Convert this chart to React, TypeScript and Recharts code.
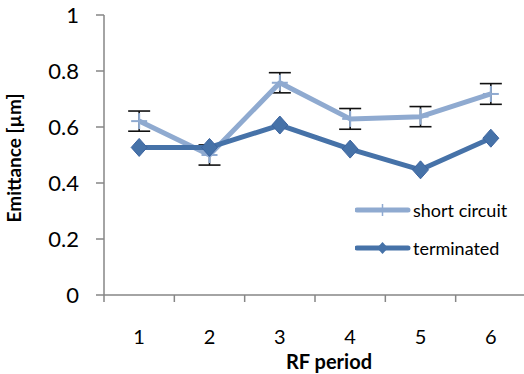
import React from 'react';
import { LineChart, Line, XAxis, YAxis, ErrorBar, Legend, Label } from 'recharts';

const periods = [1, 2, 3, 4, 5, 6];
const periodEdges = [0.5, 1.5, 2.5, 3.5, 4.5, 5.5, 6.5];
const shortCircuit = [0.621, 0.5, 0.758, 0.629, 0.637, 0.718];
const shortCircuitErr = [0.036, 0.036, 0.036, 0.037, 0.036, 0.037];
const terminated = [0.527, 0.527, 0.607, 0.521, 0.447, 0.56];
const yTicks = [0, 0.2, 0.4, 0.6, 0.8, 1];

const LIGHT = '#8FAAD0';
const DARK = '#4672A8';
const AXIS = '#868686';
const FONT = 'Lato, "Open Sans", sans-serif';
const TICK_SIZE = 7;
const TICK_MARGIN = 28;

const data = periods.map((p, i) => ({
  period: p,
  sc: shortCircuit[i],
  scErr: shortCircuitErr[i],
  term: terminated[i],
}));

const xTicks = [...periodEdges, ...periods].sort((a, b) => a - b);

const PlusDot = (props: any) => {
  const { cx, cy } = props;
  if (cx == null || cy == null) return null;
  return (
    <g>
      <line x1={cx - 8} y1={cy} x2={cx + 8} y2={cy} stroke={LIGHT} strokeWidth={2} />
      <line x1={cx} y1={cy - 8} x2={cx} y2={cy + 8} stroke={LIGHT} strokeWidth={2} />
    </g>
  );
};

const DiamondDot = (props: any) => {
  const { cx, cy } = props;
  if (cx == null || cy == null) return null;
  return (
    <polygon
      points={`${cx},${cy - 9} ${cx + 8},${cy} ${cx},${cy + 9} ${cx - 8},${cy}`}
      fill={DARK}
      stroke="#3C64A0"
      strokeWidth={1}
    />
  );
};

const XTick = (props: any) => {
  const { x, y, payload } = props;
  const v = payload.value;
  const axisY = y - TICK_SIZE - TICK_MARGIN;
  if (Number.isInteger(v)) {
    return (
      <text x={x} y={y} dy="0.71em" textAnchor="middle" fontSize={20} fontFamily={FONT} fill="#000">
        {v}
      </text>
    );
  }
  return <line x1={x} y1={axisY} x2={x} y2={axisY + TICK_SIZE} stroke={AXIS} strokeWidth={1.5} />;
};

const LegendContent = (props: any) => {
  const payload = props.payload || [];
  return (
    <div style={{ fontFamily: FONT, fontSize: 18, color: '#000' }}>
      {payload.map((entry: any) => {
        const isTerm = entry.dataKey === 'term';
        const color = isTerm ? DARK : LIGHT;
        return (
          <div key={entry.value} style={{ display: 'flex', alignItems: 'center', height: 38 }}>
            <svg width={56} height={20} style={{ display: 'block' }}>
              <line x1={2} y1={10} x2={53} y2={10} stroke={color} strokeWidth={5} strokeLinecap="round" />
              {isTerm ? (
                <polygon points="27.5,4 33,10 27.5,16 22,10" fill={DARK} />
              ) : (
                <line x1={27.5} y1={4} x2={27.5} y2={16} stroke={LIGHT} strokeWidth={1.5} />
              )}
            </svg>
            <span style={{ marginLeft: 2 }}>{entry.value}</span>
          </div>
        );
      })}
    </div>
  );
};

export default function App() {
  return (
    <div style={{ position: 'absolute', left: 0, top: 0, background: '#fff' }}>
      <LineChart width={524} height={374} data={data} margin={{ top: 15, right: -2, left: 0, bottom: 0 }}>
        <XAxis
          dataKey="period"
          type="number"
          domain={[0.5, 6.5]}
          ticks={xTicks}
          interval={0}
          tickLine={false}
          tickSize={TICK_SIZE}
          tickMargin={TICK_MARGIN}
          tick={<XTick />}
          axisLine={{ stroke: AXIS, strokeWidth: 1.5 }}
          height={79}
        >
          <Label
            value="RF period"
            position="insideBottom"
            offset={5}
            dx={14}
            style={{ fontFamily: FONT, fontSize: 20, fontWeight: 700, fill: '#000' }}
          />
        </XAxis>
        <YAxis
          type="number"
          domain={[0, 1]}
          ticks={yTicks}
          interval={0}
          width={104}
          tickSize={8}
          tickMargin={17}
          tickLine={{ stroke: AXIS, strokeWidth: 1.5 }}
          axisLine={{ stroke: AXIS, strokeWidth: 1.5 }}
          tick={{ fontSize: 22, fontFamily: FONT, fill: '#000' }}
        >
          <Label
            value="Emittance [µm]"
            angle={-90}
            position="insideLeft"
            offset={14}
            dy={3}
            style={{ textAnchor: 'middle', fontFamily: FONT, fontSize: 19, fontWeight: 700, fill: '#000' }}
          />
        </YAxis>
        <Legend
          layout="horizontal"
          verticalAlign="middle"
          align="center"
          content={<LegendContent />}
          wrapperStyle={{ position: 'absolute', left: 355, top: 191, width: 170 }}
        />
        <Line
          dataKey="sc"
          name="short circuit"
          stroke={LIGHT}
          strokeWidth={5}
          strokeLinejoin="round"
          dot={<PlusDot />}
          activeDot={false}
          isAnimationActive={false}
        >
          <ErrorBar dataKey="scErr" direction="y" width={11} stroke="#111" strokeWidth={1.6} isAnimationActive={false} />
        </Line>
        <Line
          dataKey="term"
          name="terminated"
          stroke={DARK}
          strokeWidth={5}
          strokeLinejoin="round"
          dot={<DiamondDot />}
          activeDot={false}
          isAnimationActive={false}
        />
      </LineChart>
    </div>
  );
}
